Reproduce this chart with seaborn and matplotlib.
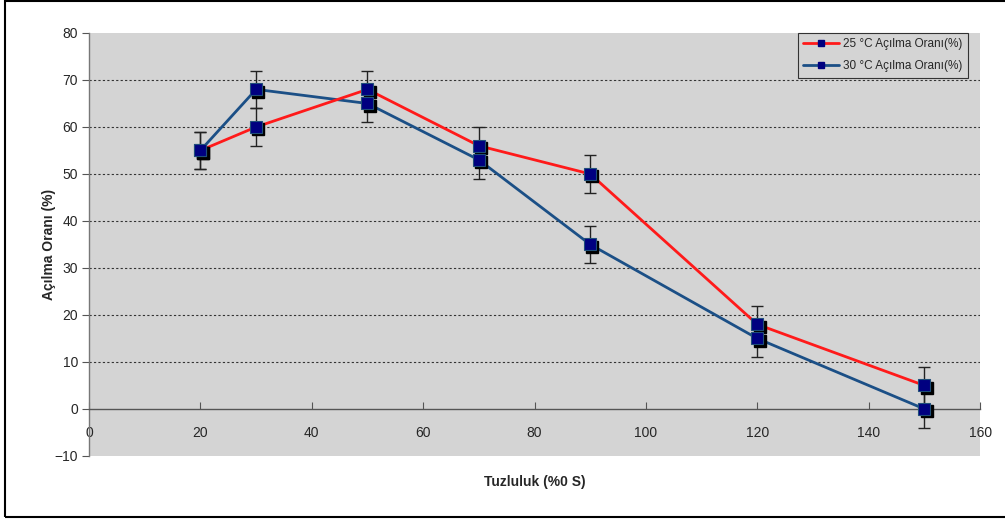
import matplotlib
matplotlib.use("Agg")
import matplotlib.pyplot as plt
import matplotlib.transforms as mtransforms
from matplotlib.lines import Line2D
from matplotlib.patches import Rectangle
import seaborn as sns
import pandas as pd

salinity = [20, 30, 50, 70, 90, 120, 150]
rate_25 = [55, 60, 68, 56, 50, 18, 5]
rate_30 = [55, 68, 65, 53, 35, 15, 0]
err_25 = [4, 4, 4, 4, 4, 4, 4]
err_30 = [4, 4, 4, 4, 4, 4, 4]
label_25 = "25 °C Açılma Oranı(%)"
label_30 = "30 °C Açılma Oranı(%)"

sns.set_style("white", {"axes.facecolor": "#D4D4D4"})
plt.rcParams["font.family"] = ["Liberation Sans", "DejaVu Sans"]

fig = plt.figure(figsize=(10.05, 5.21), dpi=100)
ax = fig.add_axes([0.0886, 0.1248, 0.8866, 0.8119])
ax.set_facecolor("#D4D4D4")

c25 = "#FF1A1A"
c30 = "#1B4F86"
mface = "#000080"

df = pd.DataFrame({
    "x": salinity * 2,
    "y": rate_25 + rate_30,
    "s": [label_25] * len(salinity) + [label_30] * len(salinity),
})

sns.lineplot(data=df[df.s == label_30], x="x", y="y", color=c30, lw=2.0, ax=ax, legend=False, zorder=2)
sns.lineplot(data=df[df.s == label_25], x="x", y="y", color=c25, lw=2.0, ax=ax, legend=False, zorder=2)

for vals, errs in [(rate_25, err_25), (rate_30, err_30)]:
    ax.errorbar(salinity, vals, yerr=errs, fmt="none", ecolor="#222222", elinewidth=1.0,
                capsize=4, capthick=1.0, zorder=3)

shadow = mtransforms.offset_copy(ax.transData, fig=fig, x=1.6, y=-1.6, units="points")
for vals in [rate_25, rate_30]:
    ax.plot(salinity, vals, ls="none", marker="s", ms=8.5, color="black", mec="black",
            transform=shadow, zorder=4)
    ax.plot(salinity, vals, ls="none", marker="s", ms=8.5, mfc=mface, mec="#1F4E79", mew=0.8, zorder=5)

ax.set_xlim(0, 160)
ax.set_ylim(-10, 80)
ax.set_xticks(range(0, 161, 20))
ax.set_yticks(range(-10, 81, 10))

for yv in range(10, 71, 10):
    ax.axhline(yv, color="#333333", lw=0.8, ls=(0, (2, 2)), zorder=1)

for s in ["top", "right"]:
    ax.spines[s].set_visible(False)
ax.spines["bottom"].set_position(("data", 0))
ax.spines["bottom"].set_color("#555555")
ax.spines["left"].set_color("#777777")
ax.spines["bottom"].set_linewidth(1.0)
ax.spines["left"].set_linewidth(1.0)

ax.tick_params(axis="y", direction="out", length=5, width=0.8, color="#555555", labelsize=10, pad=3)
ax.tick_params(axis="x", direction="in", length=5, width=0.8, color="#555555", labelsize=10, pad=12)
ax.tick_params(left=True, bottom=True)

ax.set_xlabel("Tuzluluk (%0 S)", fontsize=10, fontweight="bold", labelpad=0)
ax.xaxis.set_label_coords(0.5, -0.062)
ax.xaxis.label.set_va("center")
ax.set_ylabel("Açılma Oranı (%)", fontsize=10, fontweight="bold")
ax.yaxis.set_label_coords(-0.045, 0.5)
ax.yaxis.label.set_va("center")

handles = [
    Line2D([], [], color=c25, lw=2, marker="s", ms=5, mfc=mface, mec=mface),
    Line2D([], [], color=c30, lw=2, marker="s", ms=5, mfc=mface, mec=mface),
]
leg = ax.legend(handles, [label_25, label_30], loc="upper right", bbox_to_anchor=(0.9865, 1.0),
                borderaxespad=0, fontsize=8.5, frameon=True, fancybox=False, edgecolor="#333333",
                framealpha=1, handlelength=3, handletextpad=0.4, borderpad=0.45, labelspacing=0.85)
leg.get_frame().set_linewidth(0.8)

fig.patches.append(Rectangle((0.005, 0.008), 1.2, 0.99, transform=fig.transFigure,
                             fill=False, edgecolor="black", lw=1.5))

fig.savefig("out.png", dpi=100)
